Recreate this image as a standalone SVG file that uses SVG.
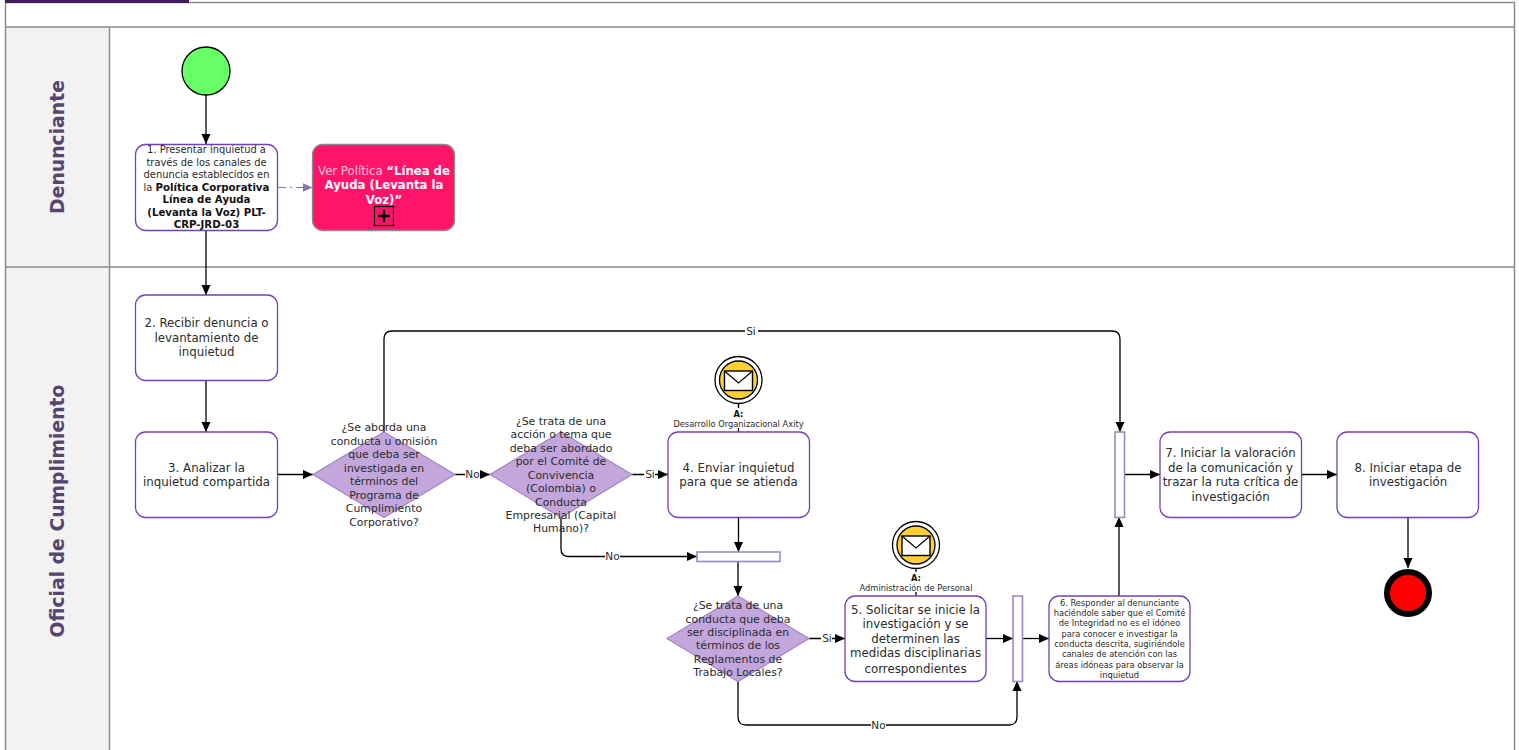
<svg xmlns="http://www.w3.org/2000/svg" width="1519" height="750" viewBox="0 0 1519 750">
<style>
text{font-family:"DejaVu Sans",Verdana,sans-serif;fill:#2b2b2b;text-anchor:middle}
.t{font-size:11.8px}.s{font-size:9.9px}.xs{font-size:8.3px}.l{font-size:10.5px}.d{font-size:10.9px}
.b{font-weight:bold;fill:#111;font-size:10.2px}
.xb{font-weight:bold;fill:#111;font-size:8.3px}
.w{fill:#fff;font-weight:bold;font-size:11.7px}
.task{fill:#fff;stroke:#7440bb;stroke-width:1.300}
.gw{fill:#c3a6dc;stroke:#a583c9;stroke-width:1.200}
.bar{fill:#fff;stroke:#9d88bd;stroke-width:1.600}
.c{fill:none;stroke:#000;stroke-width:1.300;marker-end:url(#a)}
.n{fill:none;stroke:#000;stroke-width:1.300}
.lane{fill:none;stroke:#8c8c8c;stroke-width:1.500}
.h{font-size:18.800px;font-weight:bold;fill:#55466f}
.lb{fill:#fff;stroke:none}
</style>
<defs>
<marker id="a" viewBox="0 0 10 10" refX="10" refY="5" markerWidth="10" markerHeight="10" markerUnits="userSpaceOnUse" orient="auto"><path d="M0 0.500L10 5L0 9.500z" fill="#000"/></marker>
<marker id="p" viewBox="0 0 10 10" refX="10" refY="5" markerWidth="10" markerHeight="10" markerUnits="userSpaceOnUse" orient="auto"><path d="M0 0.500L10 5L0 9.500z" fill="#8a74b0"/></marker>
</defs>
<rect width="1519" height="750" fill="#fff"/>
<g id="pool">
<rect x="6" y="27" width="103" height="723" fill="#f2f2f2"/>
<path class="lane" d="M5.500 750V2.500H1514.500V750M5.500 27H1514.500M5.500 267H1514.500M109.500 27V750"/>
<rect x="5" y="0" width="184" height="3" fill="#3f1a5c"/>
<text class="h" transform="translate(63.500,147) rotate(-90)">Denunciante</text>
<text class="h" transform="translate(63.500,511) rotate(-90)">Oficial de Cumplimiento</text>
</g>
<g id="connectors">
<path class="c" d="M206 95V144"/>
<path class="c" d="M206 231V295"/>
<path d="M278 187.500H312.500" fill="none" stroke="#8a74b0" stroke-width="1.200" stroke-dasharray="8 4 2 4" marker-end="url(#p)"/>
<path class="c" d="M206 380V432"/>
<path class="c" d="M277 474.500H313"/>
<path class="c" d="M455 474.500H490"/>
<path class="c" d="M632 474.500H668"/>
<path class="c" d="M384 432V339Q384 331 392 331H1112Q1120 331 1120 339V432"/>
<path class="c" d="M561 517V549Q561 556.500 569 556.500H697"/>
<path class="c" d="M738.500 517V552"/>
<path class="c" d="M738 561V596"/>
<path class="c" d="M809 638.500H845"/>
<path class="c" d="M986 638.500H1013"/>
<path class="c" d="M1023 638.500H1049"/>
<path class="c" d="M738 681V717Q738 725 746 725H1009Q1017 725 1017 717V681"/>
<path class="c" d="M1119 596V517"/>
<path class="c" d="M1124 474.500H1160"/>
<path class="c" d="M1301 474.500H1337"/>
<path class="c" d="M1408 517V568"/>
<path class="n" d="M738.500 404V408M738.500 428V432M916 569V572M916 592V596"/>
</g>
<g id="start"><circle cx="206" cy="71" r="24" fill="#66ff66" stroke="#000" stroke-width="1.300"/></g>
<g id="t1"><rect class="task" x="135.500" y="144.500" width="142" height="86" rx="10"/>
<text class="s" x="206.500" y="153">1. Presentar inquietud a</text>
<text class="s" x="206.500" y="166">través de los canales de</text>
<text class="s" x="206.500" y="178">denuncia establecidos en</text>
<text class="s" x="206.500" y="191">la <tspan class="b">Política Corporativa</tspan></text>
<text class="b" x="206.500" y="203">Línea de Ayuda</text>
<text class="b" x="206.500" y="216">(Levanta la Voz) PLT-</text>
<text class="b" x="206.500" y="228">CRP-JRD-03</text></g>
<g id="sub"><rect x="312.500" y="144.500" width="142" height="86" rx="10" fill="#ff1469" stroke="#8c8c8c" stroke-width="1.300"/>
<text style="fill:#ffc4dc;font-size:11.7px" x="384" y="175">Ver Política <tspan class="w">“Línea de</tspan></text>
<text class="w" x="384" y="189">Ayuda (Levanta la</text>
<text class="w" x="384" y="204">Voz)”</text>
<rect x="374.500" y="206.500" width="19" height="19" fill="none" stroke="#000" stroke-width="1.200"/>
<path d="M384 210V222M378 216H390" stroke="#000" stroke-width="2.400" fill="none"/></g>
<g id="t2"><rect class="task" x="135.500" y="295" width="142" height="85.500" rx="10"/>
<text class="t" x="206.500" y="327">2. Recibir denuncia o</text><text class="t" x="206.500" y="342">levantamiento de</text><text class="t" x="206.500" y="356">inquietud</text></g>
<g id="t3"><rect class="task" x="135.500" y="432" width="142" height="85.500" rx="10"/>
<text class="t" x="206.500" y="472">3. Analizar la</text><text class="t" x="206.500" y="486">inquietud compartida</text></g>
<g id="g1"><path class="gw" d="M384 432L455 474.500L384 517.500L313 474.500Z"/>
<text class="d" x="384" y="431">¿Se aborda una</text><text class="d" x="384" y="445">conducta u omisión</text><text class="d" x="384" y="458">que deba ser</text><text class="d" x="384" y="472">investigada en</text><text class="d" x="384" y="485">términos del</text><text class="d" x="384" y="499">Programa de</text><text class="d" x="384" y="512">Cumplimiento</text><text class="d" x="384" y="526">Corporativo?</text></g>
<g id="g2"><path class="gw" d="M561 432L632 474.500L561 517.500L490 474.500Z"/>
<text class="d" x="561" y="425">¿Se trata de una</text><text class="d" x="561" y="438">acción o tema que</text><text class="d" x="561" y="452">deba ser abordado</text><text class="d" x="561" y="465">por el Comité de</text><text class="d" x="561" y="479">Convivencia</text><text class="d" x="561" y="492">(Colombia) o</text><text class="d" x="561" y="506">Conducta</text><text class="d" x="561" y="519">Empresarial (Capital</text><text class="d" x="561" y="532">Humano)?</text></g>
<g id="t4"><rect class="task" x="668" y="432" width="141.500" height="85.500" rx="10"/>
<text class="t" x="738.500" y="472">4. Enviar inquietud</text><text class="t" x="738.500" y="486">para que se atienda</text></g>
<g id="e1"><circle cx="738.500" cy="380" r="23.500" fill="#fff" stroke="#000" stroke-width="1.300"/><circle cx="738.500" cy="380" r="19" fill="#ffd033" stroke="#000" stroke-width="1.300"/>
<rect x="724.500" y="371" width="28" height="19.500" fill="#fff" stroke="#000" stroke-width="1.400"/><path d="M724.500 371L738.500 383L752.500 371" fill="none" stroke="#000" stroke-width="1.200"/>
<text class="xb" x="738.500" y="417">A:</text><text class="xs" x="738.500" y="427">Desarrollo Organizacional Axity</text></g>
<g id="m"><rect class="bar" x="697" y="552" width="83" height="9.500"/></g>
<g id="g3"><path class="gw" d="M738 596L809 638.500L738 681.500L667 638.500Z"/>
<text class="d" x="738" y="609">¿Se trata de una</text><text class="d" x="738" y="623">conducta que deba</text><text class="d" x="738" y="636">ser disciplinada en</text><text class="d" x="738" y="649">términos de los</text><text class="d" x="738" y="663">Reglamentos de</text><text class="d" x="738" y="676">Trabajo Locales?</text></g>
<g id="t5"><rect class="task" x="845" y="596" width="141" height="85.500" rx="10"/>
<text class="t" x="915.500" y="614">5. Solicitar se inicie la</text><text class="t" x="915.500" y="628">investigación y se</text><text class="t" x="915.500" y="643">determinen las</text><text class="t" x="915.500" y="657">medidas disciplinarias</text><text class="t" x="915.500" y="673">correspondientes</text></g>
<g id="e2"><circle cx="916" cy="545" r="23.500" fill="#fff" stroke="#000" stroke-width="1.300"/><circle cx="916" cy="545" r="19" fill="#ffd033" stroke="#000" stroke-width="1.300"/>
<rect x="902" y="536" width="28" height="19.500" fill="#fff" stroke="#000" stroke-width="1.400"/><path d="M902 536L916 548L930 536" fill="none" stroke="#000" stroke-width="1.200"/>
<text class="xb" x="916" y="581">A:</text><text class="xs" x="916" y="591">Administración de Personal</text></g>
<g id="j1"><rect class="bar" x="1013" y="596" width="9.500" height="85.500"/></g>
<g id="t6"><rect class="task" x="1049" y="596" width="141" height="85.500" rx="10"/>
<text class="xs" x="1119.500" y="606">6. Responder al denunciante</text><text class="xs" x="1119.500" y="616">haciéndole saber que el Comité</text><text class="xs" x="1119.500" y="626">de Integridad no es el idóneo</text><text class="xs" x="1119.500" y="637">para conocer e investigar la</text><text class="xs" x="1119.500" y="647">conducta descrita, sugiriéndole</text><text class="xs" x="1119.500" y="657">canales de atención con las</text><text class="xs" x="1119.500" y="668">áreas idóneas para observar la</text><text class="xs" x="1119.500" y="678">inquietud</text></g>
<g id="j2"><rect class="bar" x="1115" y="432" width="9.500" height="85.500"/></g>
<g id="t7"><rect class="task" x="1160" y="432" width="141.500" height="85.500" rx="10"/>
<text class="t" x="1230.500" y="457">7. Iniciar la valoración</text><text class="t" x="1230.500" y="472">de la comunicación y</text><text class="t" x="1230.500" y="486">trazar la ruta crítica de</text><text class="t" x="1230.500" y="501">investigación</text></g>
<g id="t8"><rect class="task" x="1337" y="432" width="141.500" height="85.500" rx="10"/>
<text class="t" x="1408" y="472">8. Iniciar etapa de</text><text class="t" x="1408" y="486">investigación</text></g>
<g id="end"><circle cx="1408" cy="593" r="21" fill="#ff0000" stroke="#000" stroke-width="6"/></g>
<g id="labels">
<rect class="lb" x="745" y="325" width="13" height="12"/><text class="l" x="751" y="334.500">Si</text>
<rect class="lb" x="465" y="468" width="15" height="12"/><text class="l" x="472.500" y="478">No</text>
<rect class="lb" x="644" y="468" width="11" height="12"/><text class="l" x="650" y="478">Si</text>
<rect class="lb" x="605" y="550" width="15" height="12"/><text class="l" x="612.500" y="560">No</text>
<rect class="lb" x="821" y="632" width="11" height="12"/><text class="l" x="827" y="642">Si</text>
<rect class="lb" x="871" y="719" width="15" height="12"/><text class="l" x="878.500" y="729">No</text>
</g>
</svg>
